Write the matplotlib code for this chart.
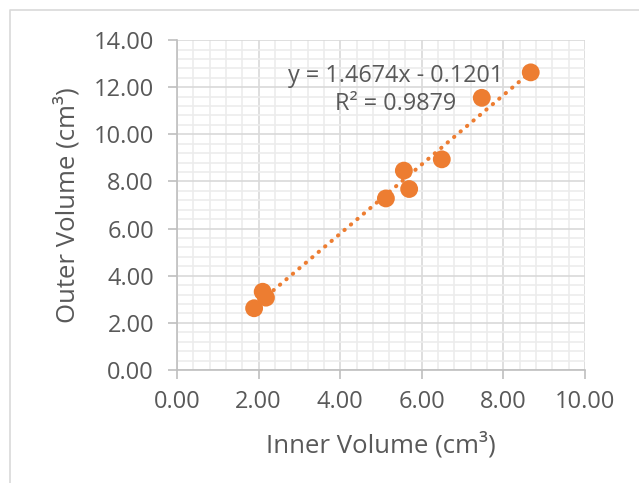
import matplotlib
matplotlib.use("Agg")
import matplotlib.pyplot as plt
import numpy as np
from matplotlib.lines import Line2D
from matplotlib.ticker import MultipleLocator, FormatStrFormatter

plt.rcParams["font.family"] = ["Open Sans", "DejaVu Sans"]

inner_volume = [1.89, 2.10, 2.18, 5.12, 5.56, 5.69, 6.49, 7.47, 8.67]
outer_volume = [2.62, 3.32, 3.07, 7.28, 8.46, 7.68, 8.94, 11.55, 12.63]

equation_text = "y = 1.4674x - 0.1201\nR² = 0.9879"

orange = "#ED7D31"
text_gray = "#595959"

fig = plt.figure(figsize=(6.39, 4.83), dpi=100)
ax = fig.add_axes([0.277, 0.234, 0.6385, 0.683])

# chart frame (only left and top edges are visible in the crop)
fig.add_artist(Line2D([0.0156, 0.0156, 1.0], [0.0, 0.979, 0.979],
                      transform=fig.transFigure, color="#d9d9d9", lw=1.2))

# linear trendline
slope, intercept = np.polyfit(inner_volume, outer_volume, 1)
x_fit = np.array([min(inner_volume), max(inner_volume)])
ax.plot(x_fit, slope * x_fit + intercept, color=orange, lw=2.9,
        linestyle=(0, (0.1, 2.0)), dash_capstyle="round", zorder=3)

ax.scatter(inner_volume, outer_volume, s=165, color=orange,
           edgecolors="none", zorder=4)

ax.text(5.37, 11.88, equation_text, ha="center", va="center",
        multialignment="center", fontsize=16.8, color=text_gray,
        linespacing=1.2, zorder=5)

ax.set_xlim(0, 10)
ax.set_ylim(0, 14)
ax.xaxis.set_major_locator(MultipleLocator(2))
ax.yaxis.set_major_locator(MultipleLocator(2))
ax.xaxis.set_minor_locator(MultipleLocator(0.4))
ax.yaxis.set_minor_locator(MultipleLocator(0.4))
ax.xaxis.set_major_formatter(FormatStrFormatter("%.2f"))
ax.yaxis.set_major_formatter(FormatStrFormatter("%.2f"))

ax.grid(which="major", color="#d9d9d9", lw=1.2, zorder=1)
ax.grid(which="minor", color="#ececec", lw=1.2, zorder=0)
ax.set_axisbelow(True)

for side in ["top", "right"]:
    ax.spines[side].set_visible(False)
for side in ["left", "bottom"]:
    ax.spines[side].set_color("#bfbfbf")
    ax.spines[side].set_linewidth(1.2)

ax.tick_params(which="major", length=6.5, width=1.2, color="#bfbfbf",
               labelsize=17, labelcolor=text_gray)
ax.tick_params(axis="y", pad=10)
ax.tick_params(axis="x", pad=8)
ax.tick_params(which="minor", length=0)

ax.set_xlabel("Inner Volume (cm³)", fontsize=18.5, color=text_gray)
ax.set_ylabel("Outer Volume (cm³)", fontsize=18.5, color=text_gray)
ax.xaxis.set_label_coords(0.5, -0.227)
ax.xaxis.label.set_va("center")
ax.yaxis.set_label_coords(-0.27, 0.5)
ax.yaxis.label.set_va("center")

fig.savefig("out.png", dpi=100)
plt.close(fig)
